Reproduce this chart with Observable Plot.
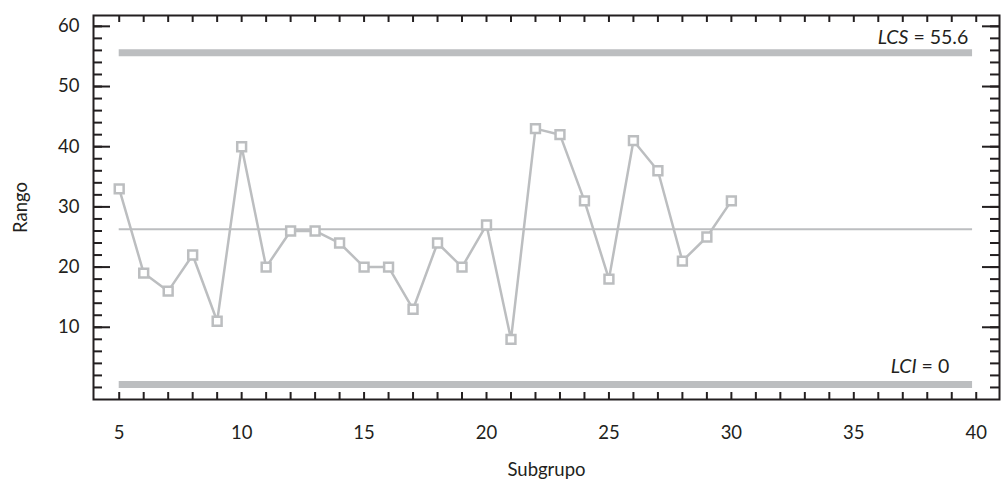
<!DOCTYPE html>
<html><head><meta charset="utf-8">
<script src="https://cdn.jsdelivr.net/npm/d3@7"></script>
<script src="https://cdn.jsdelivr.net/npm/@observablehq/plot@0.6"></script>
<style>body{margin:0;background:#fff;} svg{display:block}</style>
</head><body><div id="chart"></div>
<script>
// ---- data ----
const subgroups = [5,6,7,8,9,10,11,12,13,14,15,16,17,18,19,20,21,22,23,24,25,26,27,28,29,30];
const ranges    = [33,19,16,22,11,40,20,26,26,24,20,20,13,24,20,27,8,43,42,31,18,41,36,21,25,31];
const limitNames  = ["LCS", "LC", "LCI"];
const limitValues = [55.6, 26.3, 0];
const limitSpan   = [5, 39.85];
const xTickLabels = [5, 10, 15, 20, 25, 30, 35, 40];
const xMinorTicks = [5,6,7,8,9,10,11,12,13,14,15,16,17,18,19,20,21,22,23,24,25,26,27,28,29,30,31,32,33,34,35,36,37,38,39,40];
const yTickLabels = [10, 20, 30, 40, 50, 60];
const yMinorTicks = [0,2,4,6,8,10,12,14,16,18,20,22,24,26,28,30,32,34,36,38,40,42,44,46,48,50,52,54,56,58,60];

// ---- layout/style ----
const W = 1002, H = 481, mL = 93, mR = 3, mT = 15, mB = 82;
const pW = W - mL - mR, pH = H - mT - mB;
const gray = "#bcbec0", ink = "#231f20";

const pts = subgroups.map((s, i) => ({s, r: ranges[i]}));
const lcsLabel = {name: limitNames[0], value: limitValues[0], label: `${limitNames[0]} = ${limitValues[0]}`};
const lciLabel = {name: limitNames[2], value: limitValues[2], label: `${limitNames[2]} = ${limitValues[2]}`};
const annos = [lcsLabel, lciLabel];

const plot = Plot.plot({
  width: W, height: H,
  marginLeft: mL, marginRight: mR, marginTop: mT, marginBottom: mB,
  style: {fontFamily: "Lato, 'Open Sans', sans-serif", fontSize: "18px", color: ink, background: "#fff"},
  x: {domain: [3.95, 40.95]},
  y: {domain: [-2, 61.8]},
  marks: [
    // control limits
    Plot.ruleY([limitValues[0]], {x1: limitSpan[0], x2: limitSpan[1], stroke: gray, strokeWidth: 7}),
    Plot.ruleY([limitValues[2]], {x1: limitSpan[0], x2: limitSpan[1], stroke: gray, strokeWidth: 7, dy: -3}),
    Plot.ruleY([limitValues[1]], {x1: limitSpan[0], x2: limitSpan[1], stroke: gray, strokeWidth: 2}),
    // data
    Plot.line(pts, {x: "s", y: "r", stroke: gray, strokeWidth: 2.5}),
    Plot.dot(pts, {x: "s", y: "r", symbol: "square", r: 5, fill: "#fff", stroke: gray, strokeWidth: 2.5}),
    // annotations
    Plot.text([lcsLabel], {x: 40, y: "value", text: "label", textAnchor: "end", dx: -8, dy: -15, fill: ink, fontSize: 19.5}),
    Plot.text([lciLabel], {x: 40, y: "value", text: "label", textAnchor: "end", dx: -27, dy: -21, fill: ink, fontSize: 19.5}),
    // inward ticks
    Plot.tickX(xMinorTicks, {x: d => d, insetTop: pH - 7, stroke: ink, strokeWidth: 2}),
    Plot.tickX(xMinorTicks, {x: d => d, insetBottom: pH - 7, stroke: ink, strokeWidth: 2}),
    Plot.tickY(yMinorTicks, {y: d => d, insetRight: pW - 9, stroke: ink, strokeWidth: 2}),
    Plot.tickY(yTickLabels, {y: d => d, insetRight: pW - 17, stroke: ink, strokeWidth: 2}),
    Plot.tickY(yMinorTicks, {y: d => d, insetLeft: pW - 9, stroke: ink, strokeWidth: 2}),
    Plot.tickY(yTickLabels, {y: d => d, insetLeft: pW - 17, stroke: ink, strokeWidth: 2}),
    Plot.frame({stroke: ink, strokeWidth: 2}),
    // axes (labels only)
    Plot.axisX(xTickLabels, {tickSize: 0, tickPadding: 26, fontSize: 18.5, label: "Subgrupo", labelAnchor: "center", labelOffset: 76, labelArrow: "none"}),
    Plot.axisY(yTickLabels, {tickSize: 0, tickPadding: 14, fontSize: 18.5, label: "Rango", labelAnchor: "center", labelOffset: 80, labelArrow: "none"})
  ]
});
document.getElementById("chart").appendChild(plot);

// italicize the limit names in the annotations
d3.select(plot).selectAll("text").each(function() {
  const t = this.textContent;
  const a = annos.find(d => d.label === t);
  if (!a) return;
  const el = d3.select(this);
  el.text(null);
  el.append("tspan").attr("font-style", "italic").text(a.name);
  el.append("tspan").text(t.slice(a.name.length));
});
</script>
</body></html>
